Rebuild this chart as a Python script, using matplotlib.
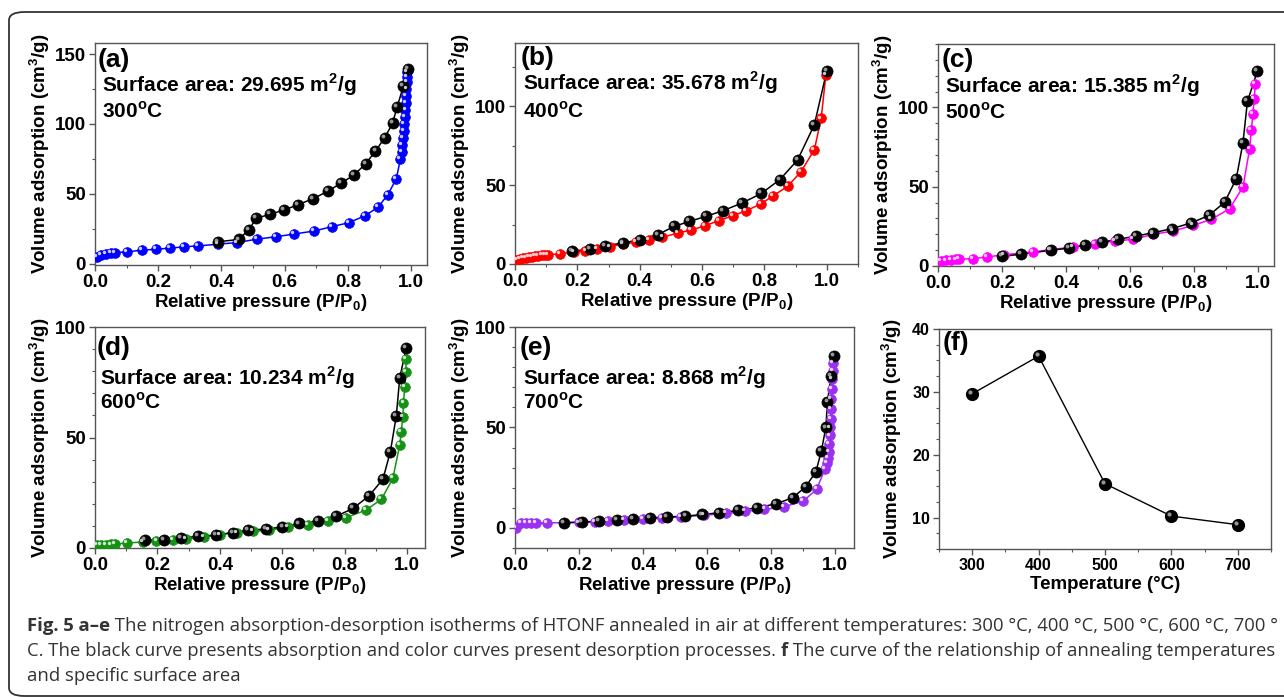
import matplotlib
matplotlib.use("Agg")
import matplotlib.pyplot as plt
import matplotlib.transforms as mtransforms
from matplotlib.patches import FancyBboxPatch
from matplotlib.ticker import AutoMinorLocator

plt.rcParams['font.family'] = ['Liberation Sans', 'DejaVu Sans']
plt.rcParams['font.weight'] = 'bold'
plt.rcParams['mathtext.fontset'] = 'custom'
plt.rcParams['mathtext.rm'] = 'Liberation Sans'
plt.rcParams['mathtext.bf'] = 'Liberation Sans:bold'

# ---- data ----
# (a) 300 C
a_ads_x = [0.388, 0.454, 0.486, 0.510, 0.554, 0.599, 0.642, 0.688, 0.736, 0.778,
           0.820, 0.856, 0.887, 0.916, 0.941, 0.956, 0.975, 0.990]
a_ads_y = [15.6, 17.3, 24.0, 32.5, 35.3, 38.5, 42.1, 46.4, 51.7, 57.7,
           63.5, 71.6, 80.5, 90.1, 100.5, 112.5, 126.9, 139.4]
a_des_x = [0.005, 0.020, 0.035, 0.050, 0.063, 0.100, 0.148, 0.193, 0.238, 0.280,
           0.327, 0.390, 0.450, 0.512, 0.571, 0.630, 0.692, 0.748, 0.803, 0.855,
           0.895, 0.926, 0.953, 0.966, 0.970, 0.972, 0.974, 0.976, 0.978, 0.980,
           0.982, 0.983, 0.984, 0.985, 0.986, 0.987, 0.988]
a_des_y = [4.8, 6.5, 7.2, 7.7, 7.9, 8.4, 9.6, 10.3, 11.1, 12.0,
           12.7, 13.9, 15.1, 17.5, 19.2, 21.2, 23.3, 26.4, 29.3, 34.4,
           40.4, 49.3, 60.8, 75.0, 80.0, 85.0, 90.0, 95.0, 100.0, 105.0,
           110.0, 115.0, 120.0, 125.0, 130.0, 134.0, 137.0]

# (b) 400 C
b_ads_x = [0.183, 0.240, 0.290, 0.346, 0.401, 0.457, 0.511, 0.559, 0.613, 0.667,
           0.728, 0.790, 0.849, 0.906, 0.960, 1.000]
b_ads_y = [8.0, 9.5, 11.6, 13.3, 15.4, 18.6, 23.8, 27.0, 30.2, 33.8,
           38.6, 44.7, 53.4, 65.8, 88.2, 122.4]
b_des_x = [0.005, 0.015, 0.025, 0.035, 0.045, 0.055, 0.065, 0.075, 0.085, 0.095,
           0.105, 0.143, 0.188, 0.226, 0.263, 0.306, 0.346, 0.387, 0.430, 0.473,
           0.522, 0.565, 0.610, 0.653, 0.699, 0.742, 0.788, 0.828, 0.874, 0.917,
           0.960, 0.982, 0.997]
b_des_y = [2.5, 3.2, 3.7, 4.1, 4.4, 4.7, 5.0, 5.2, 5.5, 5.7,
           6.0, 6.3, 7.8, 8.4, 9.5, 11.0, 12.7, 13.7, 15.2, 16.9,
           19.6, 21.5, 24.3, 27.4, 30.6, 33.8, 38.0, 43.2, 49.2, 58.4,
           72.4, 92.2, 120.0]

# (c) 500 C
c_ads_x = [0.200, 0.259, 0.352, 0.410, 0.459, 0.511, 0.563, 0.619, 0.673, 0.730,
           0.790, 0.847, 0.896, 0.932, 0.953, 0.967, 0.998]
c_ads_y = [6.1, 7.4, 9.9, 11.3, 13.0, 15.1, 16.8, 18.9, 21.0, 23.5,
           27.1, 31.9, 40.3, 55.0, 77.7, 103.8, 122.9]
c_des_x = [0.008, 0.025, 0.040, 0.055, 0.065, 0.109, 0.153, 0.205, 0.296, 0.350,
           0.423, 0.490, 0.553, 0.610, 0.673, 0.735, 0.797, 0.854, 0.911, 0.953,
           0.974, 0.979, 0.984, 0.988, 0.992]
c_des_y = [3.0, 3.5, 3.8, 4.1, 4.3, 4.6, 5.7, 7.1, 8.8, 10.3,
           12.0, 14.1, 15.8, 16.8, 20.0, 22.1, 25.6, 29.4, 36.1, 49.8,
           74.0, 85.5, 95.6, 105.5, 114.9]

# (d) 600 C
d_ads_x = [0.160, 0.221, 0.277, 0.331, 0.387, 0.441, 0.491, 0.547, 0.601, 0.654,
           0.715, 0.774, 0.827, 0.878, 0.923, 0.947, 0.966, 0.977, 0.998]
d_ads_y = [3.5, 3.8, 4.5, 5.3, 5.8, 7.0, 8.0, 8.6, 9.5, 11.1,
           12.3, 14.4, 17.9, 23.5, 31.1, 43.6, 59.8, 77.0, 90.6]
d_des_x = [0.005, 0.020, 0.035, 0.050, 0.063, 0.101, 0.155, 0.197, 0.249, 0.293,
           0.349, 0.400, 0.456, 0.507, 0.558, 0.619, 0.683, 0.747, 0.806, 0.868,
           0.918, 0.955, 0.977, 0.982, 0.987, 0.989, 0.993, 0.996, 0.998]
d_des_y = [1.2, 1.4, 1.5, 1.6, 1.7, 2.3, 2.7, 3.0, 3.5, 3.9,
           5.0, 6.1, 7.0, 7.6, 8.0, 9.5, 10.6, 12.1, 13.8, 17.1,
           22.0, 31.5, 46.7, 52.7, 59.5, 65.6, 72.9, 79.5, 85.6]

# (e) 700 C
e_ads_x = [0.153, 0.208, 0.264, 0.318, 0.370, 0.422, 0.476, 0.533, 0.586, 0.638,
           0.698, 0.757, 0.816, 0.868, 0.909, 0.941, 0.958, 0.972, 0.977, 0.988, 0.998]
e_ads_y = [2.5, 3.0, 3.3, 3.8, 4.5, 5.0, 5.5, 5.8, 6.7, 7.5,
           8.7, 10.0, 12.0, 15.0, 20.5, 28.0, 38.3, 50.0, 62.8, 75.5, 85.8]
e_des_x = [0.003, 0.020, 0.035, 0.050, 0.065, 0.101, 0.200, 0.250, 0.290, 0.340,
           0.400, 0.460, 0.520, 0.590, 0.660, 0.720, 0.780, 0.840, 0.901, 0.943,
           0.969, 0.976, 0.979, 0.981, 0.983, 0.985, 0.986, 0.987, 0.988, 0.989,
           0.990, 0.991, 0.993, 0.995]
e_des_y = [0.0, 2.3, 2.4, 2.5, 2.5, 2.5, 2.7, 3.0, 3.4, 3.8,
           4.3, 5.0, 5.5, 6.3, 7.2, 8.2, 9.2, 10.5, 13.3, 19.2,
           29.2, 32.5, 35.0, 38.0, 42.0, 46.0, 50.0, 54.0, 59.0, 64.0,
           69.0, 74.0, 78.0, 82.0]

# (f) surface area vs temperature
f_temp = [300, 400, 500, 600, 700]
f_area = [29.695, 35.678, 15.385, 10.234, 8.868]

labels = ['(a)', '(b)', '(c)', '(d)', '(e)']
areas = ['29.695', '35.678', '15.385', '10.234', '8.868']
temps = ['300', '400', '500', '600', '700']
colors = ['#0000ff', '#ff0000', '#ff00ff', '#169116', '#9a30f0']

W, H = 1284, 697
fig = plt.figure(figsize=(W / 100, H / 100), dpi=100)


def px_axes(left, top, right, bottom):
    return fig.add_axes([left / W, 1 - bottom / H, (right - left) / W, (bottom - top) / H])


def sphere(ax, x, y, color, ms, hl):
    ax.plot(x, y, '-', color=color, lw=1.1, zorder=2)
    ax.plot(x, y, 'o', ms=ms, mfc=color, mec=color, mew=0.5, zorder=3)
    off = mtransforms.ScaledTranslation(-1.4 / 72, 1.4 / 72, fig.dpi_scale_trans)
    ax.plot(x, y, 'o', ms=ms * 0.35, mfc=hl, mec='none', alpha=0.8,
            transform=ax.transData + off, zorder=4)


def style(ax, xminor=2, yminor=2, ts=13.5):
    for s in ax.spines.values():
        s.set_color('#555555')
        s.set_linewidth(1.0)
    ax.tick_params(which='major', direction='out', length=4.5, width=1.0,
                   color='#555555', labelsize=ts, pad=2)
    ax.tick_params(which='minor', direction='out', length=2.5, width=0.8, color='#555555')
    ax.xaxis.set_minor_locator(AutoMinorLocator(xminor))
    ax.yaxis.set_minor_locator(AutoMinorLocator(yminor))
    for t in ax.get_xticklabels() + ax.get_yticklabels():
        t.set_fontweight('bold')


ylab = r'Volume adsorption (cm$^{\mathbf{3}}$/g)'
xlab = r'Relative pressure (P/P$_{\mathbf{0}}$)'

rects = [(95, 43, 427, 265), (515, 43, 858, 264), (938, 44, 1274, 266),
         (95, 327, 425, 548), (515, 327, 854, 548)]
ylims = [(-1, 158), (0, 140), (0, 140), (0, 100), (-10, 100)]
xlims = [(0, 1.05), (0, 1.1), (0, 1.05), (0, 1.058), (0, 1.06)]
yticks = [[0, 50, 100, 150], [0, 50, 100], [0, 50, 100], [0, 50, 100], [0, 50, 100]]
yminors = [2, 2, 5, 5, 5]
txt_y = [(0.923, 0.81, 0.69), (0.93, 0.82, 0.69), (0.93, 0.81, 0.69),
         (0.905, 0.77, 0.66), (0.905, 0.77, 0.66)]
txt_x = [(0.008, 0.02), (0.015, 0.024), (0.012, 0.02), (0.006, 0.016), (0.015, 0.024)]

ads = [(a_ads_x, a_ads_y), (b_ads_x, b_ads_y), (c_ads_x, c_ads_y),
       (d_ads_x, d_ads_y), (e_ads_x, e_ads_y)]
des = [(a_des_x, a_des_y), (b_des_x, b_des_y), (c_des_x, c_des_y),
       (d_des_x, d_des_y), (e_des_x, e_des_y)]

for i in range(5):
    ax = px_axes(*rects[i])
    sphere(ax, des[i][0], des[i][1], colors[i], 7.0, 'white')
    sphere(ax, ads[i][0], ads[i][1], 'black', 8.0, '#bbbbbb')
    ax.set_xlim(*xlims[i])
    ax.set_ylim(*ylims[i])
    ax.set_xticks([0, 0.2, 0.4, 0.6, 0.8, 1.0])
    ax.set_yticks(yticks[i])
    style(ax, 2, yminors[i])
    ax.set_xlabel(xlab, fontsize=13.5, fontweight='bold', labelpad=1)
    ax.set_ylabel(ylab, fontsize=13.5, fontweight='bold', labelpad=2)
    ax.text(txt_x[i][0], txt_y[i][0], labels[i], transform=ax.transAxes,
            fontsize=19, fontweight='bold', va='center', ha='left')
    ax.text(txt_x[i][1], txt_y[i][1], 'Surface area: ' + areas[i] + r' m$^{\mathbf{2}}$/g',
            transform=ax.transAxes, fontsize=15, fontweight='bold', va='center', ha='left')
    ax.text(txt_x[i][1], txt_y[i][2], temps[i] + r'$^{\mathbf{o}}$C',
            transform=ax.transAxes, fontsize=15, fontweight='bold', va='center', ha='left')

# (f)
ax = px_axes(939, 329, 1271, 549)
ax.plot(f_temp, f_area, '-', color='black', lw=1.0, zorder=2)
ax.plot(f_temp, f_area, 'o', ms=8.5, mfc='black', mec='black', zorder=3)
off = mtransforms.ScaledTranslation(-1.5 / 72, 1.5 / 72, fig.dpi_scale_trans)
ax.plot(f_temp, f_area, 'o', ms=3.0, mfc='#bbbbbb', mec='none', alpha=0.8,
        transform=ax.transData + off, zorder=4)
ax.set_xlim(250, 750)
ax.set_ylim(5, 40)
ax.set_xticks([300, 400, 500, 600, 700])
ax.set_yticks([10, 20, 30, 40])
style(ax, 2, 4, ts=11.5)
ax.set_xlabel('Temperature (°C)', fontsize=13.5, fontweight='bold', labelpad=2)
ax.set_ylabel(ylab, fontsize=13.5, fontweight='bold', labelpad=6)
ax.text(0.01, 0.936, '(f)', transform=ax.transAxes, fontsize=19,
        fontweight='bold', va='center', ha='left')

# border around the whole figure
border = FancyBboxPatch((9 / W, 1 / H), 1.2, (H - 13) / H,
                        boxstyle='round,pad=0,rounding_size=0.012',
                        transform=fig.transFigure, fill=False,
                        edgecolor='#333333', lw=1.3, clip_on=False)
fig.patches.append(border)

# caption
cap_font = ['Open Sans', 'DejaVu Sans']
cap_lines = [
    [('Fig. 5 a\u2013e', 'bold'),
     (' The nitrogen absorption-desorption isotherms of HTONF annealed in air at different '
      'temperatures: 300 \u00b0C, 400 \u00b0C, 500 \u00b0C, 600 \u00b0C, 700 \u00b0', 'normal')],
    [('C. The black curve presents absorption and color curves present desorption processes. ', 'normal'),
     ('f', 'bold'),
     (' The curve of the relationship of annealing temperatures', 'normal')],
    [('and specific surface area', 'normal')],
]
cap_y = [626, 651, 676]
renderer = fig.canvas.get_renderer()


def draw_line(pieces, y, size):
    x = 27
    objs = []
    for s, w in pieces:
        t = fig.text(x / W, 1 - y / H, s, fontsize=size, fontweight=w,
                     family=cap_font, color='#333333', va='center', ha='left')
        bb = t.get_window_extent(renderer)
        x = bb.x1
        objs.append(t)
    return objs, x


objs, xend = draw_line(cap_lines[0], cap_y[0], 13)
size = 13 * (1268 - 27) / (xend - 27)
for o in objs:
    o.remove()
for pieces, y in zip(cap_lines, cap_y):
    draw_line(pieces, y, size)

fig.savefig('out.png', dpi=100)
